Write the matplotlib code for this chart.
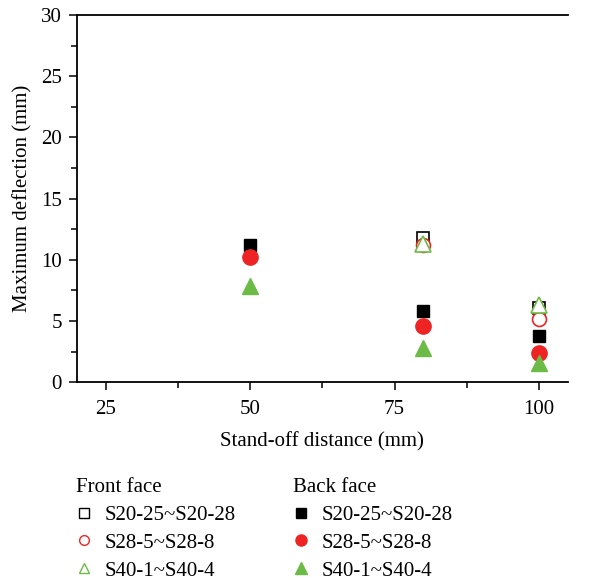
import matplotlib
matplotlib.use("Agg")
import matplotlib.pyplot as plt
from matplotlib.lines import Line2D
from matplotlib.ticker import MultipleLocator

plt.rcParams['font.family'] = ['Liberation Serif', 'DejaVu Serif']

# Data
front_sq_x = [80, 100]
front_sq_y = [11.8, 6.1]
front_ci_x = [80, 100]
front_ci_y = [11.2, 5.2]
front_tr_x = [80, 100]
front_tr_y = [11.3, 6.3]

back_sq_x = [50, 80, 100]
back_sq_y = [11.2, 5.8, 3.8]
back_ci_x = [50, 80, 100]
back_ci_y = [10.2, 4.6, 2.4]
back_tr_x = [50, 80, 100]
back_tr_y = [7.9, 2.8, 1.6]

labels = ["S20-25~S20-28", "S28-5~S28-8", "S40-1~S40-4"]
xticks = [25, 50, 75, 100]
yticks = [0, 5, 10, 15, 20, 25, 30]

red = '#EE2424'
green = '#6CBB47'
FS = 15

fig = plt.figure(figsize=(5.97, 5.80), dpi=100)
ax = fig.add_axes([0.129, 0.341, 0.822, 0.633])

ax.plot(front_sq_x, front_sq_y, 's', ms=9, mfc='white', mec='black', mew=1.2, ls='none', zorder=3)
ax.plot(front_ci_x, front_ci_y, 'o', ms=10, mfc='white', mec=red, mew=1.2, ls='none', zorder=3)
ax.plot(front_tr_x, front_tr_y, '^', ms=11, mfc='white', mec=green, mew=1.2, ls='none', zorder=3)
ax.plot(back_sq_x, back_sq_y, 's', ms=9, color='black', ls='none', zorder=3)
ax.plot(back_ci_x, back_ci_y, 'o', ms=11, color=red, ls='none', zorder=3)
ax.plot(back_tr_x, back_tr_y, '^', ms=12, color=green, ls='none', zorder=3)

ax.set_xlim(20, 105)
ax.set_ylim(0, 30)
ax.set_xticks(xticks)
ax.set_yticks(yticks)
ax.xaxis.set_minor_locator(MultipleLocator(12.5))
ax.yaxis.set_minor_locator(MultipleLocator(2.5))
ax.tick_params(which='major', direction='out', length=6, width=1.1, labelsize=FS, pad=5)
ax.tick_params(axis='x', which='major', pad=7)
ax.tick_params(which='minor', direction='out', length=4, width=1.1)
ax.spines['right'].set_visible(False)
for s in ['left', 'bottom', 'top']:
    ax.spines[s].set_linewidth(1.3)

ax.set_xlabel('Stand-off distance (mm)', fontsize=FS, labelpad=9)
ax.set_ylabel('Maximum deflection (mm)', fontsize=FS, labelpad=6)

front_handles = [
    Line2D([], [], marker='s', ls='none', ms=7, mfc='white', mec='black', mew=1.0),
    Line2D([], [], marker='o', ls='none', ms=7, mfc='white', mec=red, mew=1.0),
    Line2D([], [], marker='^', ls='none', ms=7, mfc='white', mec=green, mew=1.0),
]
back_handles = [
    Line2D([], [], marker='s', ls='none', ms=7, color='black'),
    Line2D([], [], marker='o', ls='none', ms=8, color=red),
    Line2D([], [], marker='^', ls='none', ms=8, color=green),
]
common = dict(loc='upper left', frameon=False, fontsize=FS, title_fontsize=FS,
              handlelength=0.8, handletextpad=0.6, labelspacing=0.40,
              alignment='left', borderaxespad=0, borderpad=0)
leg1 = fig.legend(front_handles, labels, title='Front face',
                  bbox_to_anchor=(0.127, 0.176), **common)
leg2 = fig.legend(back_handles, labels, title='Back face',
                  bbox_to_anchor=(0.490, 0.176), **common)

fig.savefig('out.png', dpi=100)
